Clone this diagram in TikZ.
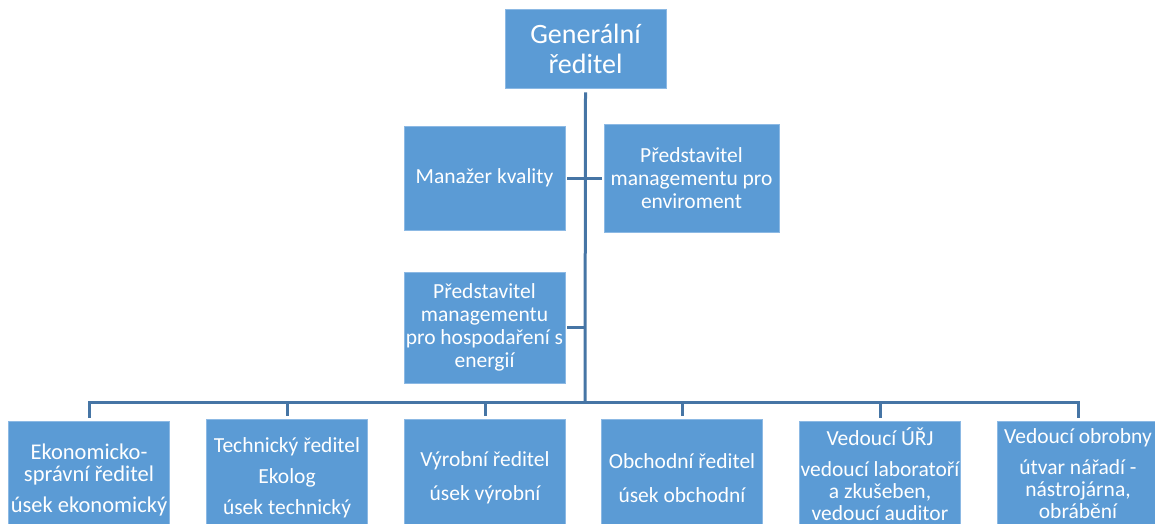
\documentclass[tikz,border=0pt]{standalone}
\usepackage{fontspec}
\setmainfont{Carlito}
\definecolor{boxblue}{RGB}{91,155,213}
\definecolor{lineblue}{RGB}{70,117,165}
\definecolor{edgeblue}{RGB}{140,185,228}
\begin{document}
\begin{tikzpicture}[x=1pt,y=-1pt,
  box/.style={fill=boxblue, draw=edgeblue, line width=0.8pt, text=white, align=center, inner sep=0pt, minimum width=161pt},
  conn/.style={draw=lineblue, line width=3pt},
  mid/.style={font=\fontsize{21.5}{23}\selectfont},
  low/.style={font=\fontsize{21.5}{22}\selectfont, minimum height=118pt}]
\useasboundingbox (0,0) rectangle (1155,524);
\node[box, minimum height=79pt, font=\fontsize{28}{30}\selectfont] (gr) at (585.5,48.5) {Generální\\ředitel};
\node[box, mid, minimum height=104pt] (mk) at (484.5,178) {Manažer kvality};
\node[box, mid, minimum width=175pt, minimum height=108pt] (pe) at (691.5,178) {Představitel\\managementu pro\\enviroment};
\node[box, mid, minimum height=111pt] (en) at (484.5,327.5) {Představitel\\managementu\\pro hospodaření s\\energií};
\coordinate (bus) at (585,402);
\node[box, low, font=\fontsize{22.5}{22}\selectfont] (ek) at (89,480) {Ekonomicko-\\správní ředitel\\[9pt]úsek ekonomický};
\node[box, low] (te) at (287,478) {Technický ředitel\\[9pt]Ekolog\\[9pt]úsek technický};
\node[box, low] (vy) at (485,478) {Výrobní ředitel\\[12pt]úsek výrobní};
\node[box, low] (ob) at (682,478) {Obchodní ředitel\\[12pt]úsek obchodní};
\node[box, low, minimum height=106pt] (ur) at (880,474) {Vedoucí ÚŘJ\\[9pt]vedoucí laboratoří\\a zkušeben,\\vedoucí auditor};
\node[box, low, minimum height=106pt] (nr) at (1078,474) {Vedoucí obrobny\\[9pt]útvar nářadí -\\nástrojárna,\\obrábění};
\draw[conn] ([yshift=-4pt]gr.south) -- (bus);
\draw[conn, shorten <=2pt, shorten >=2pt] (mk.east) -- (pe.west);
\draw[conn, shorten <=2pt] (en.east) -- (en.east -| bus);
\draw[conn] ([yshift=3pt]ek.north) |- (bus);
\draw[conn] ([yshift=3pt]te.north) |- (bus);
\draw[conn] ([yshift=3pt]vy.north) |- (bus);
\draw[conn] ([yshift=3pt]ob.north) |- (bus);
\draw[conn] ([yshift=3pt]ur.north) |- (bus);
\draw[conn] ([yshift=3pt]nr.north) |- (bus);
\end{tikzpicture}
\end{document}
